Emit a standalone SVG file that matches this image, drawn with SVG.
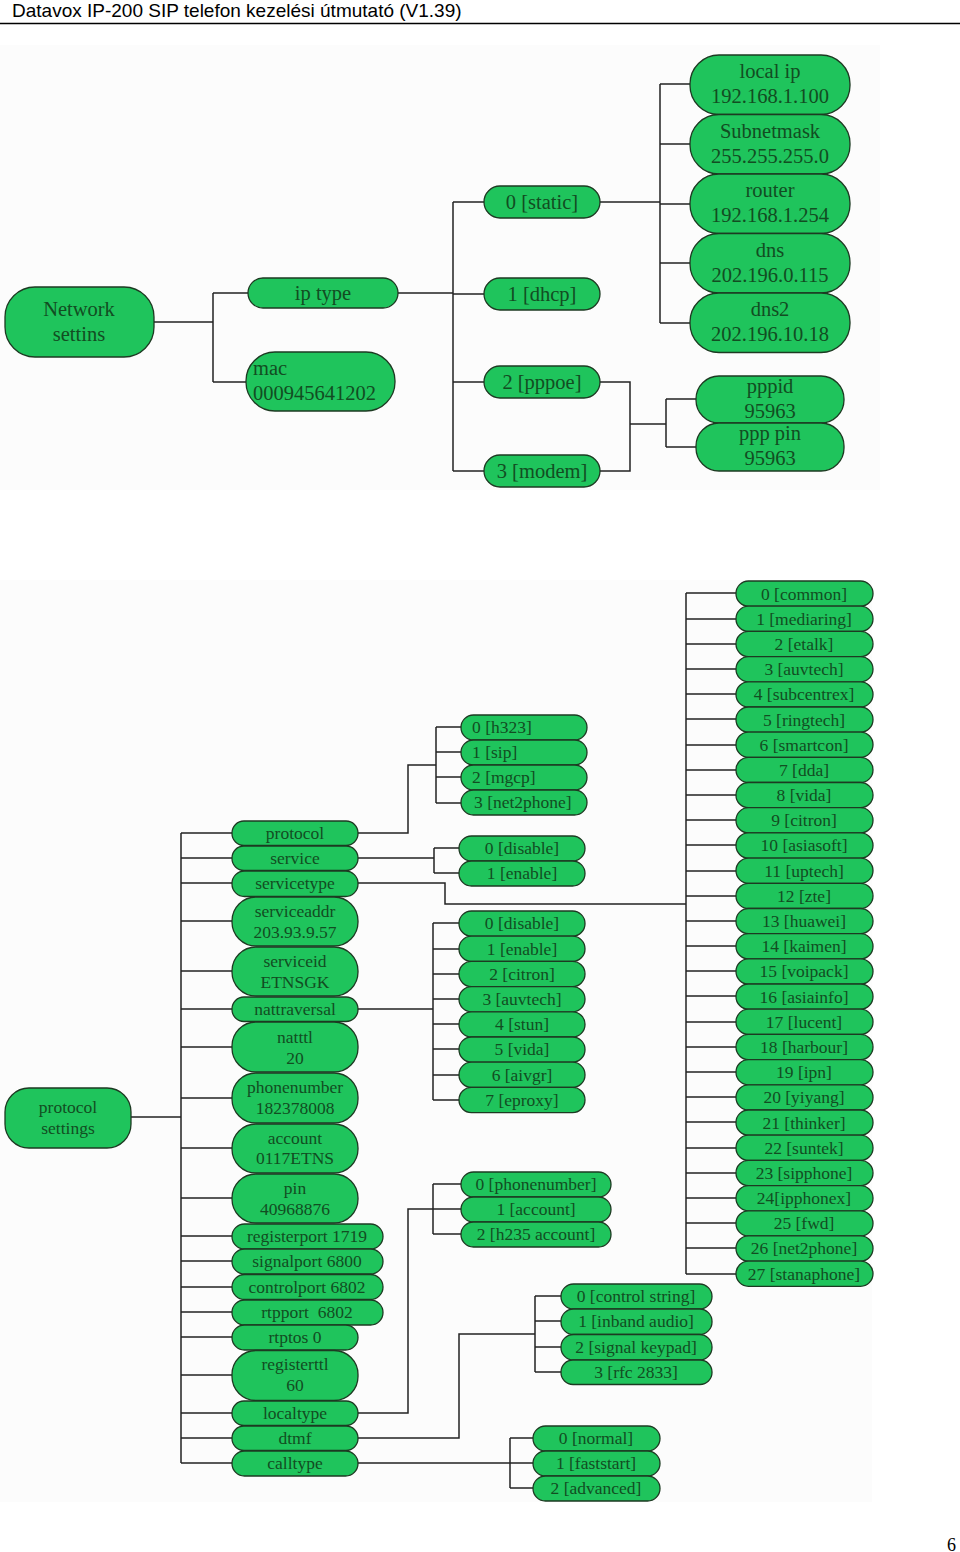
<svg xmlns="http://www.w3.org/2000/svg" width="960" height="1552" viewBox="0 0 960 1552">
<style>
.n{fill:#1fc45c;stroke:#1d3a22;stroke-width:1.3}
.c{fill:none;stroke:#222;stroke-width:1.5}
.t{font-family:"Liberation Serif",serif;font-size:17.5px;fill:#124d22;text-anchor:middle}
.tl{font-family:"Liberation Serif",serif;font-size:17.5px;fill:#124d22;text-anchor:start}
.T{font-family:"Liberation Serif",serif;font-size:20.5px;fill:#124d22;text-anchor:middle}
.TL{font-family:"Liberation Serif",serif;font-size:20.5px;fill:#124d22;text-anchor:start}
</style>
<rect x="0" y="0" width="960" height="1552" fill="#fff"/>
<rect x="0" y="45" width="880" height="445" fill="#fcfcfc"/>
<rect x="0" y="580" width="872" height="922" fill="#fcfcfc"/>
<g id="header">
<text x="12" y="17" style="font-family:'Liberation Sans',Arial,sans-serif;font-size:19px;fill:#000">Datavox IP-200 SIP telefon kezelési útmutató (V1.39)</text>
<line x1="0" y1="23.5" x2="960" y2="23.5" stroke="#000" stroke-width="1.5"/>
</g>
<text id="page" x="956" y="1551" style="font-family:'Liberation Serif',serif;font-size:18px;fill:#000" text-anchor="end">6</text>

<g id="connectors" class="c">
<path d="M154,322H213M213,293V382M213,293H248M213,382H246"/>
<path d="M398,293H453M453,202V471M453,202H484M453,294H484M453,382H484M453,471H484"/>
<path d="M600,202H660M660,84V323M660,84H690M660,144H690M660,204H690M660,263H690M660,323H690"/>
<path d="M600,382H630V471H600M630,424H666M666,399V447M666,399H696M666,447H696"/>
<path d="M131,1117H181M181,833V1463"/>
<path d="M181,833H232M181,858H232M181,883H232M181,921H232M181,971H232M181,1009H232M181,1047H232M181,1098H232M181,1148H232M181,1198H232M181,1236H232M181,1261H232M181,1287H232M181,1312H232M181,1337H232M181,1375H232M181,1413H232M181,1438H232M181,1463H232"/>
<path d="M358,833H408V765H436M436,727V803M436,727H461M436,752H461M436,777H461M436,803H461"/>
<path d="M358,858H434M434,848V873M434,848H459M434,873H459"/>
<path d="M358,883H445V904H686"/>
<path d="M358,1009H433M433,923V1100M433,923H459M433,949H459M433,974H459M433,999H459M433,1024H459M433,1049H459M433,1075H459M433,1100H459"/>
<path d="M358,1413H408V1209H433M433,1184V1234M433,1184H461M433,1209H461M433,1234H461"/>
<path d="M358,1438H459V1334H535M535,1296V1372M535,1296H561M535,1321H561M535,1347H561M535,1372H561"/>
<path d="M358,1463H510M510,1438V1488M510,1438H533M510,1463H533M510,1488H533"/>
<path d="M686,593V1274M686,593H736M686,619H736M686,644H736M686,669H736M686,694H736M686,719H736M686,745H736M686,770H736M686,795H736M686,820H736M686,845H736M686,871H736M686,896H736M686,921H736M686,946H736M686,971H736M686,996H736M686,1022H736M686,1047H736M686,1072H736M686,1097H736M686,1122H736M686,1148H736M686,1173H736M686,1198H736M686,1223H736M686,1248H736M686,1274H736"/>
</g>

<!-- Top diagram -->
<g id="net"><rect class="n" x="5" y="287" width="149" height="70" rx="30"/><text class="T" x="79" y="316">Network</text><text class="T" x="79" y="341">settins</text></g>
<g id="iptype"><rect class="n" x="248" y="278" width="150" height="30" rx="15"/><text class="T" x="323" y="300">ip type</text></g>
<g id="mac"><rect class="n" x="246" y="352" width="149" height="59" rx="29"/><text class="TL" x="253" y="375">mac</text><text class="TL" x="253" y="400">000945641202</text></g>
<g id="static"><rect class="n" x="484" y="186" width="116" height="32" rx="16"/><text class="T" x="542" y="209">0 [static]</text></g>
<g id="dhcp"><rect class="n" x="484" y="278" width="116" height="32" rx="16"/><text class="T" x="542" y="301">1 [dhcp]</text></g>
<g id="pppoe"><rect class="n" x="484" y="366" width="116" height="32" rx="16"/><text class="T" x="542" y="389">2 [pppoe]</text></g>
<g id="modem"><rect class="n" x="484" y="455" width="116" height="32" rx="16"/><text class="T" x="542" y="478">3 [modem]</text></g>
<g id="localip"><rect class="n" x="690" y="55" width="160" height="59.5" rx="29"/><text class="T" x="770" y="78">local ip</text><text class="T" x="770" y="103">192.168.1.100</text></g>
<g id="subnet"><rect class="n" x="690" y="114.5" width="160" height="59.5" rx="29"/><text class="T" x="770" y="138">Subnetmask</text><text class="T" x="770" y="163">255.255.255.0</text></g>
<g id="router"><rect class="n" x="690" y="174" width="160" height="59.5" rx="29"/><text class="T" x="770" y="197">router</text><text class="T" x="770" y="222">192.168.1.254</text></g>
<g id="dns"><rect class="n" x="690" y="233.5" width="160" height="59.5" rx="29"/><text class="T" x="770" y="257">dns</text><text class="T" x="770" y="282">202.196.0.115</text></g>
<g id="dns2"><rect class="n" x="690" y="293" width="160" height="59.5" rx="29"/><text class="T" x="770" y="316">dns2</text><text class="T" x="770" y="341">202.196.10.18</text></g>
<g id="pppid"><rect class="n" x="696" y="376" width="148" height="47" rx="23"/><text class="T" x="770" y="393">pppid</text><text class="T" x="770" y="418">95963</text></g>
<g id="ppppin"><rect class="n" x="696" y="423" width="148" height="48" rx="23"/><text class="T" x="770" y="440">ppp pin</text><text class="T" x="770" y="465">95963</text></g>

<!-- Bottom diagram -->
<g id="protset"><rect class="n" x="5" y="1088" width="126" height="60" rx="24"/><text class="t" x="68" y="1113">protocol</text><text class="t" x="68" y="1134">settings</text></g>

<g id="m-protocol"><rect class="n" x="232" y="821" width="126" height="24.5" rx="12"/><text class="t" x="295" y="839">protocol</text></g>
<g id="m-service"><rect class="n" x="232" y="846" width="126" height="24.5" rx="12"/><text class="t" x="295" y="864">service</text></g>
<g id="m-servicetype"><rect class="n" x="232" y="871" width="126" height="25.5" rx="12.5"/><text class="t" x="295" y="889">servicetype</text></g>
<g id="m-serviceaddr"><rect class="n" x="232" y="897" width="126" height="49" rx="24"/><text class="t" x="295" y="917">serviceaddr</text><text class="t" x="295" y="938">203.93.9.57</text></g>
<g id="m-serviceid"><rect class="n" x="232" y="947" width="126" height="49" rx="24"/><text class="t" x="295" y="967">serviceid</text><text class="t" x="295" y="988">ETNSGK</text></g>
<g id="m-nattraversal"><rect class="n" x="232" y="997" width="126" height="24.5" rx="12"/><text class="t" x="295" y="1015">nattraversal</text></g>
<g id="m-natttl"><rect class="n" x="232" y="1022" width="126" height="50" rx="24"/><text class="t" x="295" y="1043">natttl</text><text class="t" x="295" y="1064">20</text></g>
<g id="m-phonenumber"><rect class="n" x="232" y="1073" width="126" height="50" rx="24"/><text class="t" x="295" y="1093">phonenumber</text><text class="t" x="295" y="1114">182378008</text></g>
<g id="m-account"><rect class="n" x="232" y="1124" width="126" height="49" rx="24"/><text class="t" x="295" y="1144">account</text><text class="t" x="295" y="1164">0117ETNS</text></g>
<g id="m-pin"><rect class="n" x="232" y="1174" width="126" height="49" rx="24"/><text class="t" x="295" y="1194">pin</text><text class="t" x="295" y="1215">40968876</text></g>
<g id="m-registerport"><rect class="n" x="232" y="1224" width="151" height="25" rx="12.5"/><text class="t" x="307" y="1242">registerport 1719</text></g>
<g id="m-signalport"><rect class="n" x="232" y="1249" width="151" height="25" rx="12.5"/><text class="t" x="307" y="1267">signalport 6800</text></g>
<g id="m-controlport"><rect class="n" x="232" y="1274.5" width="151" height="25" rx="12.5"/><text class="t" x="307" y="1293">controlport 6802</text></g>
<g id="m-rtpport"><rect class="n" x="232" y="1300" width="151" height="25" rx="12.5"/><text class="t" x="307" y="1318" xml:space="preserve">rtpport  6802</text></g>
<g id="m-rtptos"><rect class="n" x="232" y="1325" width="126" height="25" rx="12.5"/><text class="t" x="295" y="1343">rtptos 0</text></g>
<g id="m-registerttl"><rect class="n" x="232" y="1350.5" width="126" height="50" rx="24"/><text class="t" x="295" y="1370">registerttl</text><text class="t" x="295" y="1391">60</text></g>
<g id="m-localtype"><rect class="n" x="232" y="1401" width="126" height="24.5" rx="12"/><text class="t" x="295" y="1419">localtype</text></g>
<g id="m-dtmf"><rect class="n" x="232" y="1426" width="126" height="24.5" rx="12"/><text class="t" x="295" y="1444">dtmf</text></g>
<g id="m-calltype"><rect class="n" x="232" y="1451" width="126" height="25" rx="12.5"/><text class="t" x="295" y="1469">calltype</text></g>

<g id="p-h323"><rect class="n" x="461" y="715" width="126" height="25" rx="12.5"/><text class="tl" x="472" y="733">0 [h323]</text></g>
<g id="p-sip"><rect class="n" x="461" y="740" width="126" height="25" rx="12.5"/><text class="tl" x="472" y="758">1 [sip]</text></g>
<g id="p-mgcp"><rect class="n" x="461" y="765" width="126" height="25" rx="12.5"/><text class="tl" x="472" y="783">2 [mgcp]</text></g>
<g id="p-net2phone"><rect class="n" x="461" y="790" width="126" height="25" rx="12.5"/><text class="tl" x="474" y="808">3 [net2phone]</text></g>

<g id="s-disable"><rect class="n" x="459" y="836" width="126" height="25" rx="12.5"/><text class="t" x="522" y="854">0 [disable]</text></g>
<g id="s-enable"><rect class="n" x="459" y="861" width="126" height="25" rx="12.5"/><text class="t" x="522" y="879">1 [enable]</text></g>

<g id="n-disable"><rect class="n" x="459" y="911" width="126" height="25.2" rx="12.5"/><text class="t" x="522" y="929">0 [disable]</text></g>
<g id="n-enable"><rect class="n" x="459" y="936.2" width="126" height="25.2" rx="12.5"/><text class="t" x="522" y="955">1 [enable]</text></g>
<g id="n-citron"><rect class="n" x="459" y="961.4" width="126" height="25.2" rx="12.5"/><text class="t" x="522" y="980">2 [citron]</text></g>
<g id="n-auvtech"><rect class="n" x="459" y="986.6" width="126" height="25.2" rx="12.5"/><text class="t" x="522" y="1005">3 [auvtech]</text></g>
<g id="n-stun"><rect class="n" x="459" y="1011.8" width="126" height="25.2" rx="12.5"/><text class="t" x="522" y="1030">4 [stun]</text></g>
<g id="n-vida"><rect class="n" x="459" y="1037" width="126" height="25.2" rx="12.5"/><text class="t" x="522" y="1055">5 [vida]</text></g>
<g id="n-aivgr"><rect class="n" x="459" y="1062.2" width="126" height="25.2" rx="12.5"/><text class="t" x="522" y="1081">6 [aivgr]</text></g>
<g id="n-eproxy"><rect class="n" x="459" y="1087.4" width="126" height="25.2" rx="12.5"/><text class="t" x="522" y="1106">7 [eproxy]</text></g>

<g id="l-phonenumber"><rect class="n" x="461" y="1172" width="150" height="25" rx="12.5"/><text class="t" x="536" y="1190">0 [phonenumber]</text></g>
<g id="l-account"><rect class="n" x="461" y="1197" width="150" height="25" rx="12.5"/><text class="t" x="536" y="1215">1 [account]</text></g>
<g id="l-h235"><rect class="n" x="461" y="1222" width="150" height="25" rx="12.5"/><text class="t" x="536" y="1240">2 [h235 account]</text></g>

<g id="d-control"><rect class="n" x="561" y="1284" width="151" height="25" rx="12.5"/><text class="t" x="636" y="1302">0 [control string]</text></g>
<g id="d-inband"><rect class="n" x="561" y="1309" width="151" height="25.5" rx="12.5"/><text class="t" x="636" y="1327">1 [inband audio]</text></g>
<g id="d-keypad"><rect class="n" x="561" y="1334.5" width="151" height="25.5" rx="12.5"/><text class="t" x="636" y="1353">2 [signal keypad]</text></g>
<g id="d-rfc"><rect class="n" x="561" y="1360" width="151" height="24.5" rx="12"/><text class="t" x="636" y="1378">3 [rfc 2833]</text></g>

<g id="c-normal"><rect class="n" x="533" y="1426" width="127" height="25" rx="12.5"/><text class="t" x="596" y="1444">0 [normal]</text></g>
<g id="c-faststart"><rect class="n" x="533" y="1451" width="127" height="25" rx="12.5"/><text class="t" x="596" y="1469">1 [faststart]</text></g>
<g id="c-advanced"><rect class="n" x="533" y="1476" width="127" height="25" rx="12.5"/><text class="t" x="596" y="1494">2 [advanced]</text></g>

<g id="r0"><rect class="n" x="736" y="581" width="137" height="25.2" rx="12.5"/><text class="t" x="804" y="599.5">0 [common]</text></g>
<g id="r1"><rect class="n" x="736" y="606.2" width="137" height="25.2" rx="12.5"/><text class="t" x="804" y="624.7">1 [mediaring]</text></g>
<g id="r2"><rect class="n" x="736" y="631.4" width="137" height="25.2" rx="12.5"/><text class="t" x="804" y="649.9">2 [etalk]</text></g>
<g id="r3"><rect class="n" x="736" y="656.6" width="137" height="25.2" rx="12.5"/><text class="t" x="804" y="675.1">3 [auvtech]</text></g>
<g id="r4"><rect class="n" x="736" y="681.8" width="137" height="25.2" rx="12.5"/><text class="t" x="804" y="700.3">4 [subcentrex]</text></g>
<g id="r5"><rect class="n" x="736" y="707" width="137" height="25.2" rx="12.5"/><text class="t" x="804" y="725.5">5 [ringtech]</text></g>
<g id="r6"><rect class="n" x="736" y="732.1" width="137" height="25.2" rx="12.5"/><text class="t" x="804" y="750.6">6 [smartcon]</text></g>
<g id="r7"><rect class="n" x="736" y="757.3" width="137" height="25.2" rx="12.5"/><text class="t" x="804" y="775.8">7 [dda]</text></g>
<g id="r8"><rect class="n" x="736" y="782.5" width="137" height="25.2" rx="12.5"/><text class="t" x="804" y="801">8 [vida]</text></g>
<g id="r9"><rect class="n" x="736" y="807.7" width="137" height="25.2" rx="12.5"/><text class="t" x="804" y="826.2">9 [citron]</text></g>
<g id="r10"><rect class="n" x="736" y="832.9" width="137" height="25.2" rx="12.5"/><text class="t" x="804" y="851.4">10 [asiasoft]</text></g>
<g id="r11"><rect class="n" x="736" y="858.1" width="137" height="25.2" rx="12.5"/><text class="t" x="804" y="876.6">11 [uptech]</text></g>
<g id="r12"><rect class="n" x="736" y="883.3" width="137" height="25.2" rx="12.5"/><text class="t" x="804" y="901.8">12 [zte]</text></g>
<g id="r13"><rect class="n" x="736" y="908.5" width="137" height="25.2" rx="12.5"/><text class="t" x="804" y="927">13 [huawei]</text></g>
<g id="r14"><rect class="n" x="736" y="933.7" width="137" height="25.2" rx="12.5"/><text class="t" x="804" y="952.2">14 [kaimen]</text></g>
<g id="r15"><rect class="n" x="736" y="958.9" width="137" height="25.2" rx="12.5"/><text class="t" x="804" y="977.4">15 [voipack]</text></g>
<g id="r16"><rect class="n" x="736" y="984" width="137" height="25.2" rx="12.5"/><text class="t" x="804" y="1002.5">16 [asiainfo]</text></g>
<g id="r17"><rect class="n" x="736" y="1009.2" width="137" height="25.2" rx="12.5"/><text class="t" x="804" y="1027.7">17 [lucent]</text></g>
<g id="r18"><rect class="n" x="736" y="1034.4" width="137" height="25.2" rx="12.5"/><text class="t" x="804" y="1052.9">18 [harbour]</text></g>
<g id="r19"><rect class="n" x="736" y="1059.6" width="137" height="25.2" rx="12.5"/><text class="t" x="804" y="1078.1">19 [ipn]</text></g>
<g id="r20"><rect class="n" x="736" y="1084.8" width="137" height="25.2" rx="12.5"/><text class="t" x="804" y="1103.3">20 [yiyang]</text></g>
<g id="r21"><rect class="n" x="736" y="1110" width="137" height="25.2" rx="12.5"/><text class="t" x="804" y="1128.5">21 [thinker]</text></g>
<g id="r22"><rect class="n" x="736" y="1135.2" width="137" height="25.2" rx="12.5"/><text class="t" x="804" y="1153.7">22 [suntek]</text></g>
<g id="r23"><rect class="n" x="736" y="1160.4" width="137" height="25.2" rx="12.5"/><text class="t" x="804" y="1178.9">23 [sipphone]</text></g>
<g id="r24"><rect class="n" x="736" y="1185.6" width="137" height="25.2" rx="12.5"/><text class="t" x="804" y="1204.1">24[ipphonex]</text></g>
<g id="r25"><rect class="n" x="736" y="1210.8" width="137" height="25.2" rx="12.5"/><text class="t" x="804" y="1229.3">25 [fwd]</text></g>
<g id="r26"><rect class="n" x="736" y="1235.9" width="137" height="25.2" rx="12.5"/><text class="t" x="804" y="1254.4">26 [net2phone]</text></g>
<g id="r27"><rect class="n" x="736" y="1261.1" width="137" height="25.2" rx="12.5"/><text class="t" x="804" y="1279.6">27 [stanaphone]</text></g>
</svg>
